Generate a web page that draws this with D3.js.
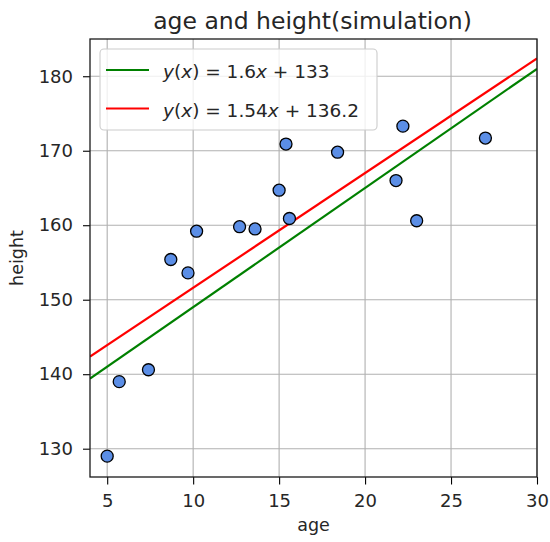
<!DOCTYPE html>
<html>
<head>
<meta charset="utf-8">
<script src="https://cdn.jsdelivr.net/npm/d3@7"></script>
<style>
  body { margin: 0; background: #fff; }
  svg text { font-family: "DejaVu Sans", sans-serif; fill: #262626; }
</style>
</head>
<body>
<div id="chart"></div>
<script>
// scatter data: age vs height
const ages = [5.0, 5.7, 7.4, 8.7, 9.7, 10.2, 12.7, 13.6, 15.0, 15.4, 15.6, 18.4, 21.8, 22.2, 23.0, 27.0];
const heights = [129.0, 139.0, 140.6, 155.4, 153.6, 159.2, 159.8, 159.5, 164.7, 170.9, 160.9, 169.8, 166.0, 173.3, 160.6, 171.7];

// fitted lines: slope, intercept
const fitSlopes = [1.6, 1.54];
const fitIntercepts = [133, 136.2];
const fitLabels = ['1.6', '1.54'];
const fitInterceptLabels = ['133', '136.2'];
const fitColors = ['#008000', '#ff0000'];

const xTicks = [5, 10, 15, 20, 25, 30];
const yTicks = [130, 140, 150, 160, 170, 180];

const width = 550, height = 542;
const plotLeft = 90, plotRight = 537, plotTop = 39, plotBottom = 477;

const svg = d3.select('#chart')
  .append('svg')
    .attr('width', width)
    .attr('height', height);

const x = d3.scaleLinear().domain([4, 30]).range([plotLeft, plotRight]);
const y = d3.scaleLinear().domain([126.2, 185.0]).range([plotBottom, plotTop]);

// grid
svg.append('g')
  .selectAll('line')
  .data(xTicks)
  .join('line')
    .attr('x1', d => x(d)).attr('x2', d => x(d))
    .attr('y1', plotTop).attr('y2', plotBottom)
    .attr('stroke', '#b0b0b0').attr('stroke-width', 1.1);
svg.append('g')
  .selectAll('line')
  .data(yTicks)
  .join('line')
    .attr('x1', plotLeft).attr('x2', plotRight)
    .attr('y1', d => y(d)).attr('y2', d => y(d))
    .attr('stroke', '#b0b0b0').attr('stroke-width', 1.1);

// axes
const xAxis = svg.append('g')
  .attr('transform', 'translate(0,' + plotBottom + ')')
  .call(d3.axisBottom(x).tickValues(xTicks).tickSize(7.5).tickPadding(9.5).tickSizeOuter(0));
const yAxis = svg.append('g')
  .attr('transform', 'translate(' + plotLeft + ',0)')
  .call(d3.axisLeft(y).tickValues(yTicks).tickSize(7).tickPadding(10).tickSizeOuter(0));
[xAxis, yAxis].forEach(g => {
  g.select('.domain').remove();
  g.selectAll('line').attr('stroke', '#000').attr('stroke-width', 1.1);
  g.selectAll('text').attr('font-size', 18).attr('fill', '#262626')
    .style('font-family', '"DejaVu Sans", sans-serif');
});

// clip for lines
svg.append('clipPath').attr('id', 'plot-clip')
  .append('rect')
    .attr('x', plotLeft).attr('y', plotTop)
    .attr('width', plotRight - plotLeft).attr('height', plotBottom - plotTop);

const lineGen = d3.line().x(d => x(d[0])).y(d => y(d[1]));
svg.append('g')
  .attr('clip-path', 'url(#plot-clip)')
  .selectAll('path')
  .data(fitSlopes.map((s, i) => ({ s, b: fitIntercepts[i], c: fitColors[i] })))
  .join('path')
    .attr('fill', 'none')
    .attr('stroke', d => d.c)
    .attr('stroke-width', 2.2)
    .attr('d', d => lineGen(x.domain().map(v => [v, d.s * v + d.b])));

// points
svg.append('g')
  .selectAll('circle')
  .data(ages.map((a, i) => [a, heights[i]]))
  .join('circle')
    .attr('cx', d => x(d[0]))
    .attr('cy', d => y(d[1]))
    .attr('r', 6)
    .attr('fill', '#5b8ee6')
    .attr('stroke', '#000')
    .attr('stroke-width', 1.3);

// frame
svg.append('rect')
  .attr('x', plotLeft).attr('y', plotTop)
  .attr('width', plotRight - plotLeft).attr('height', plotBottom - plotTop)
  .attr('fill', 'none').attr('stroke', '#1a1a1a').attr('stroke-width', 1.3);

// legend
const legend = svg.append('g');
legend.append('rect')
  .attr('x', 100).attr('y', 49)
  .attr('width', 277).attr('height', 81)
  .attr('rx', 4)
  .attr('fill', 'rgba(255,255,255,0.8)')
  .attr('stroke', '#cccccc').attr('stroke-width', 1.1);
fitSlopes.forEach((s, i) => {
  const ly = 70 + i * 38.5;
  legend.append('line')
    .attr('x1', 106).attr('x2', 149)
    .attr('y1', ly).attr('y2', ly)
    .attr('stroke', fitColors[i]).attr('stroke-width', 2.2);
  const t = legend.append('text')
    .attr('x', 163).attr('y', ly + 8)
    .attr('font-size', 18.5)
    .attr('xml:space', 'preserve');
  t.append('tspan').attr('font-style', 'italic').text('y');
  t.append('tspan').text('(');
  t.append('tspan').attr('font-style', 'italic').text('x');
  t.append('tspan').text(') = ' + fitLabels[i]);
  t.append('tspan').attr('font-style', 'italic').text('x');
  t.append('tspan').text(' + ' + fitInterceptLabels[i]);
});

// title and labels
svg.append('text')
  .attr('x', (plotLeft + plotRight) / 2 - 1).attr('y', 28.5)
  .attr('text-anchor', 'middle')
  .attr('font-size', 23.5)
  .text('age and height(simulation)');
svg.append('text')
  .attr('x', (plotLeft + plotRight) / 2).attr('y', 531)
  .attr('text-anchor', 'middle')
  .attr('font-size', 17.5)
  .text('age');
svg.append('text')
  .attr('transform', 'translate(23,' + (plotTop + plotBottom) / 2 + ') rotate(-90)')
  .attr('text-anchor', 'middle')
  .attr('font-size', 17.5)
  .text('height');
</script>
</body>
</html>
